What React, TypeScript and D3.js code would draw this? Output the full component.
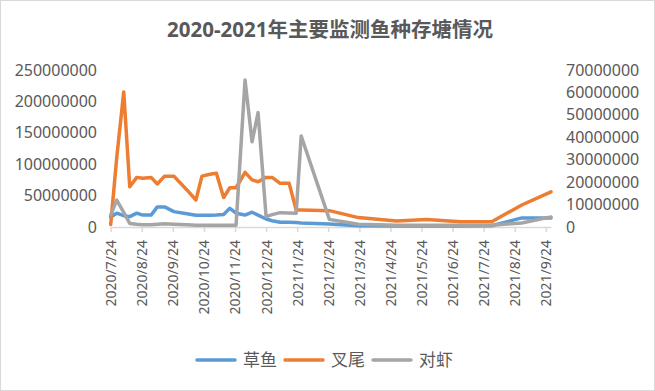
import React, { useEffect, useRef } from 'react';
import * as d3 from 'd3';

const WIDTH = 655;
const HEIGHT = 391;

// sample dates (x axis)
const dates = [
  '2020/7/24', '2020/7/30', '2020/8/6', '2020/8/12', '2020/8/19', '2020/8/25', '2020/9/3',
  '2020/9/9', '2020/9/16', '2020/9/25', '2020/10/7', '2020/10/16', '2020/10/22', '2020/10/30',
  '2020/11/6', '2020/11/13', '2020/11/19', '2020/11/25', '2020/12/3', '2020/12/10', '2020/12/16',
  '2020/12/24', '2020/12/30', '2021/1/7', '2021/1/16', '2021/1/23', '2021/1/28', '2021/2/25',
  '2021/3/23', '2021/4/30', '2021/5/29', '2021/7/1', '2021/8/1', '2021/8/31', '2021/9/29',
];

// 草鱼 (left axis, millions)
const grassCarp = [
  16, 22, 18, 16.5, 22, 19, 19, 32, 32, 24.5, 21, 18.6, 18.6, 18.6, 19, 20, 29.8, 22, 19, 23.5,
  19, 12.7, 10, 7.5, 7.5, 7, 6.5, 4.8, 2, 1.5, 1.5, 1.5, 2, 14.5, 14.5,
];

// 叉尾 (left axis, millions)
const catfish = [
  4, 110, 215, 64, 79, 77.5, 79, 68.5, 81, 81, 59, 43, 81, 84, 85.5, 47, 62.5, 62.5, 87, 75,
  72, 79, 79, 69.5, 69.5, 27, 27, 26, 15, 9.5, 12, 8.5, 8.5, 35, 56,
];

// 对虾 (right axis, millions)
const shrimp = [
  5.3, 12, 6.5, 1.6, 1.2, 1.0, 1.0, 1.2, 1.4, 1.2, 1.0, 0.8, 0.8, 0.8, 0.8, 0.8, 0.8, 0.8, 65.5,
  38, 51, 4.6, 5.5, 6.4, 6.2, 6.1, 40.6, 3.4, 1.2, 0.8, 0.8, 0.8, 0.8, 1.8, 4.5,
];

const tickLabels = [
  '2020/7/24', '2020/8/24', '2020/9/24', '2020/10/24', '2020/11/24', '2020/12/24', '2021/1/24',
  '2021/2/24', '2021/3/24', '2021/4/24', '2021/5/24', '2021/6/24', '2021/7/24', '2021/8/24',
  '2021/9/24',
];

const leftTicks = [0, 50000000, 100000000, 150000000, 200000000, 250000000];
const rightTicks = [0, 10000000, 20000000, 30000000, 40000000, 50000000, 60000000, 70000000];

const series = [
  { name: '草鱼', values: grassCarp, color: '#5B9BD5', axis: 'left' },
  { name: '叉尾', values: catfish, color: '#ED7D31', axis: 'left' },
  { name: '对虾', values: shrimp, color: '#A5A5A5', axis: 'right' },
];

const FONT = '"Noto Sans", "Noto Sans CJK SC", sans-serif';
const TEXT = '#595959';

// months since 2020/7/24 (axis is spaced by month)
function monthOffset(s: string) {
  const [y, m, d] = s.split('/').map(Number);
  const dim = new Date(y, m, 0).getDate();
  return (y - 2020) * 12 + (m - 7) + (d - 24) / dim;
}

export default function App() {
  const svgRef = useRef<SVGSVGElement>(null);

  useEffect(() => {
    if (!svgRef.current) return;
    const svg = d3.select(svgRef.current);
    svg.selectAll('*').remove();

    const left = 110.7;
    const right = 551;
    const top = 70;
    const bottom = 227;

    const x = d3.scaleLinear().domain([0, monthOffset(dates[dates.length - 1])]).range([left, right]);
    const yL = d3.scaleLinear().domain([0, 250000000]).range([bottom, top]);
    const yR = d3.scaleLinear().domain([0, 70000000]).range([bottom, top]);

    svg.append('rect')
      .attr('x', 0.5).attr('y', 0.5)
      .attr('width', WIDTH - 1).attr('height', HEIGHT - 1)
      .attr('fill', '#fff').attr('stroke', '#d9d9d9');

    // title
    svg.append('text')
      .attr('x', 330).attr('y', 37)
      .attr('text-anchor', 'middle')
      .attr('font-family', FONT).attr('font-size', 20.5).attr('font-weight', 'bold')
      .attr('fill', TEXT)
      .text('2020-2021年主要监测鱼种存塘情况');

    // left axis labels
    svg.append('g').selectAll('text').data(leftTicks).enter().append('text')
      .attr('x', 97).attr('y', (d) => yL(d))
      .attr('dy', '0.35em').attr('text-anchor', 'end')
      .attr('font-family', FONT).attr('font-size', 16).attr('fill', TEXT)
      .text((d) => String(d));

    // right axis labels
    svg.append('g').selectAll('text').data(rightTicks).enter().append('text')
      .attr('x', 566).attr('y', (d) => yR(d))
      .attr('dy', '0.35em').attr('text-anchor', 'start')
      .attr('font-family', FONT).attr('font-size', 16).attr('fill', TEXT)
      .text((d) => String(d));

    // x axis
    const xAxis = svg.append('g')
      .attr('transform', `translate(0,${bottom})`)
      .call(d3.axisBottom(x).tickValues(d3.range(tickLabels.length)).tickSize(5).tickSizeOuter(0)
        .tickFormat((d) => tickLabels[d as number]));
    xAxis.select('.domain').attr('stroke', '#d9d9d9').attr('stroke-width', 1.5);
    xAxis.selectAll('.tick line').attr('stroke', '#d9d9d9').attr('stroke-width', 1.5);
    xAxis.selectAll('.tick text')
      .attr('font-family', FONT).attr('font-size', 14).attr('fill', TEXT)
      .attr('text-anchor', 'end')
      .attr('transform', 'rotate(-90)')
      .attr('x', -13).attr('y', 0).attr('dy', '0.35em');

    // lines
    series.forEach((s) => {
      const yScale = s.axis === 'left' ? yL : yR;
      const line = d3.line<number>()
        .x((_, i) => x(monthOffset(dates[i])))
        .y((v) => yScale(v * 1000000));
      svg.append('path')
        .datum(s.values)
        .attr('d', line)
        .attr('fill', 'none')
        .attr('stroke', s.color)
        .attr('stroke-width', 3.5)
        .attr('stroke-linejoin', 'round')
        .attr('stroke-linecap', 'round');
    });

    // legend
    const legendX = [197, 285, 373];
    const legend = svg.append('g');
    series.forEach((s, i) => {
      legend.append('line')
        .attr('x1', legendX[i]).attr('x2', legendX[i] + 38)
        .attr('y1', 360).attr('y2', 360)
        .attr('stroke', s.color).attr('stroke-width', 3.5).attr('stroke-linecap', 'round');
      legend.append('text')
        .attr('x', legendX[i] + 46).attr('y', 360).attr('dy', '0.35em')
        .attr('font-family', FONT).attr('font-size', 17).attr('fill', TEXT)
        .text(s.name);
    });
  }, []);

  return (
    <div style={{ position: 'fixed', left: 0, top: 0 }}>
      <svg ref={svgRef} width={WIDTH} height={HEIGHT} style={{ display: 'block' }} />
    </div>
  );
}
